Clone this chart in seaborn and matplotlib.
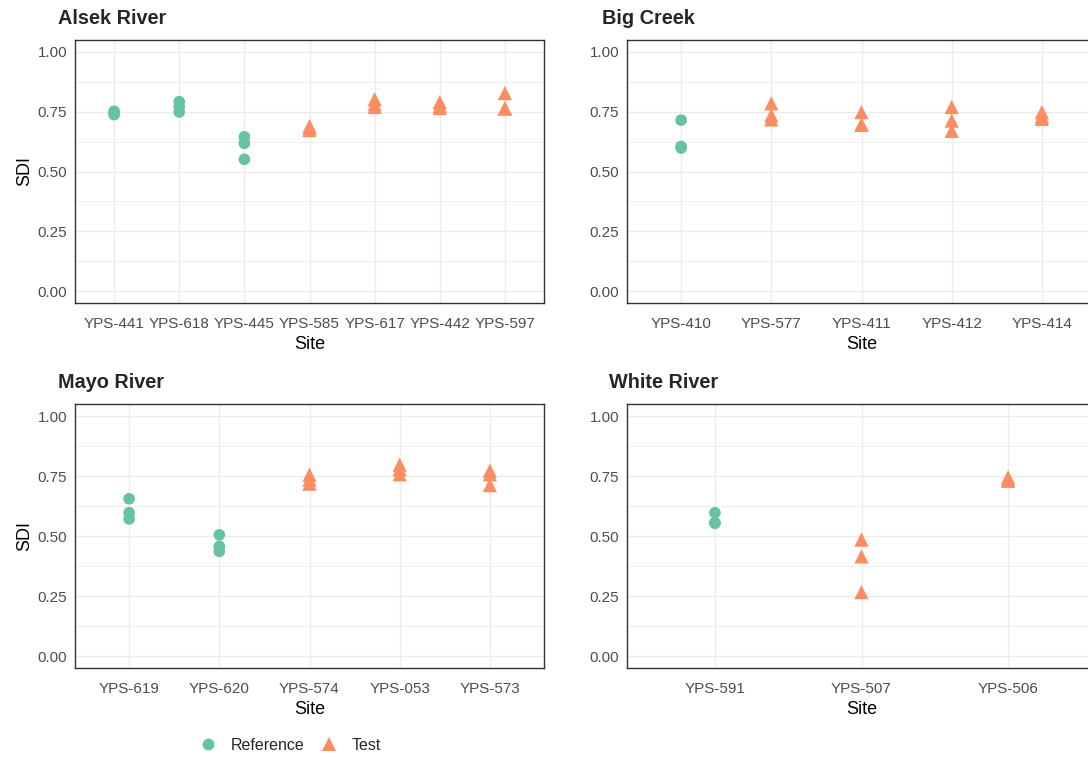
import matplotlib
matplotlib.use("Agg")
import matplotlib.pyplot as plt
import seaborn as sns
import pandas as pd
import numpy as np

sns.set_style("white")
plt.rcParams["font.family"] = ["Liberation Sans", "DejaVu Sans"]

# Shannon diversity (SDI) per site, three replicate samples each
alsek_sites = ["YPS-441", "YPS-618", "YPS-445", "YPS-585", "YPS-617", "YPS-442", "YPS-597"]
alsek_groups = ["Reference", "Reference", "Reference", "Test", "Test", "Test", "Test"]
alsek_sdi = [
    [0.752, 0.745, 0.738],
    [0.792, 0.771, 0.749],
    [0.645, 0.618, 0.551],
    [0.690, 0.680, 0.673],
    [0.802, 0.782, 0.770],
    [0.790, 0.775, 0.765],
    [0.828, 0.765, 0.763],
]

bigcreek_sites = ["YPS-410", "YPS-577", "YPS-411", "YPS-412", "YPS-414"]
bigcreek_groups = ["Reference", "Test", "Test", "Test", "Test"]
bigcreek_sdi = [
    [0.715, 0.605, 0.598],
    [0.785, 0.735, 0.718],
    [0.748, 0.697, 0.695],
    [0.770, 0.713, 0.670],
    [0.748, 0.730, 0.720],
]

mayo_sites = ["YPS-619", "YPS-620", "YPS-574", "YPS-053", "YPS-573"]
mayo_groups = ["Reference", "Reference", "Test", "Test", "Test"]
mayo_sdi = [
    [0.655, 0.597, 0.571],
    [0.505, 0.457, 0.436],
    [0.755, 0.735, 0.718],
    [0.797, 0.778, 0.757],
    [0.772, 0.757, 0.712],
]

white_sites = ["YPS-591", "YPS-507", "YPS-506"]
white_groups = ["Reference", "Test", "Test"]
white_sdi = [
    [0.597, 0.555, 0.553],
    [0.485, 0.415, 0.266],
    [0.745, 0.735, 0.730],
]

panels = [
    ("Alsek River", alsek_sites, alsek_groups, alsek_sdi),
    ("Big Creek", bigcreek_sites, bigcreek_groups, bigcreek_sdi),
    ("Mayo River", mayo_sites, mayo_groups, mayo_sdi),
    ("White River", white_sites, white_groups, white_sdi),
]

group_order = ["Reference", "Test"]
palette = {"Reference": "#66C2A5", "Test": "#FC8D62"}
markers = {"Reference": "o", "Test": "^"}
marker_sizes = {"Reference": 70, "Test": 105}

W, H = 1088, 757
fig = plt.figure(figsize=(W / 100, H / 100), dpi=100)
fig.patch.set_facecolor("white")

# panel boxes in pixels: (left, top, right, bottom)
boxes = [
    (75, 40, 544, 303),
    (627, 40, 1096, 303),
    (75, 404, 544, 668),
    (627, 404, 1096, 668),
]
title_pos = [(58, 18), (602, 18), (58, 382), (609, 382)]


def frame(sites, groups, values):
    rows = []
    for site, grp, vals in zip(sites, groups, values):
        for v in vals:
            rows.append({"Site": site, "Group": grp, "SDI": v})
    return pd.DataFrame(rows)


handles = labels = None
for i, ((title, sites, groups, values), box, tpos) in enumerate(zip(panels, boxes, title_pos)):
    l, t, r, b = box
    ax = fig.add_axes([l / W, 1 - b / H, (r - l) / W, (b - t) / H])
    df = frame(sites, groups, values)
    sns.scatterplot(
        data=df, x="Site", y="SDI", hue="Group", style="Group", size="Group",
        hue_order=group_order, style_order=group_order, size_order=group_order,
        palette=palette, markers=markers, sizes=marker_sizes, linewidth=0,
        ax=ax, legend=True, zorder=3,
    )
    if i == 0:
        handles, labels = ax.get_legend_handles_labels()
    ax.get_legend().remove()

    n = len(sites)
    ax.set_xlim(-0.6, n - 1 + 0.6)
    ax.set_ylim(-0.05, 1.05)
    ax.set_yticks([0, 0.25, 0.5, 0.75, 1.0])
    ax.set_yticklabels(["0.00", "0.25", "0.50", "0.75", "1.00"])
    ax.set_yticks([0.125, 0.375, 0.625, 0.875], minor=True)
    ax.set_axisbelow(True)
    ax.grid(True, which="major", color="#EBEBEB", linewidth=1.0)
    ax.grid(True, which="minor", axis="y", color="#EBEBEB", linewidth=0.55)
    for sp in ax.spines.values():
        sp.set_color("#333333")
        sp.set_linewidth(1.0)
    ax.tick_params(axis="both", which="major", length=3.5, width=0.9, color="#333333",
                   labelcolor="#4D4D4D", labelsize=11, pad=2)
    ax.tick_params(axis="x", which="major", pad=6.5)
    ax.tick_params(axis="y", which="minor", length=0)
    ax.set_xlabel("Site", fontsize=13, color="black", labelpad=4)
    if i in (0, 2):
        ax.set_ylabel("SDI", fontsize=13, color="black", labelpad=3)
    else:
        ax.set_ylabel("")
    fig.text(tpos[0] / W, 1 - tpos[1] / H, title, fontsize=14.3, fontweight="bold",
             color="#262626", ha="left", va="center")

leg = fig.legend(
    handles, labels, loc="center", bbox_to_anchor=(290 / W, 1 - 745 / H),
    ncol=2, frameon=False, fontsize=11.5, handletextpad=0.85, columnspacing=0.9,
    handlelength=1.2,
)
for h, lab in zip(leg.legend_handles, labels):
    try:
        h.set_markersize(8.5 if lab == "Reference" else 10)
    except Exception:
        h.set_sizes([70 if lab == "Reference" else 100])

fig.savefig("out.png", dpi=100, facecolor="white")
